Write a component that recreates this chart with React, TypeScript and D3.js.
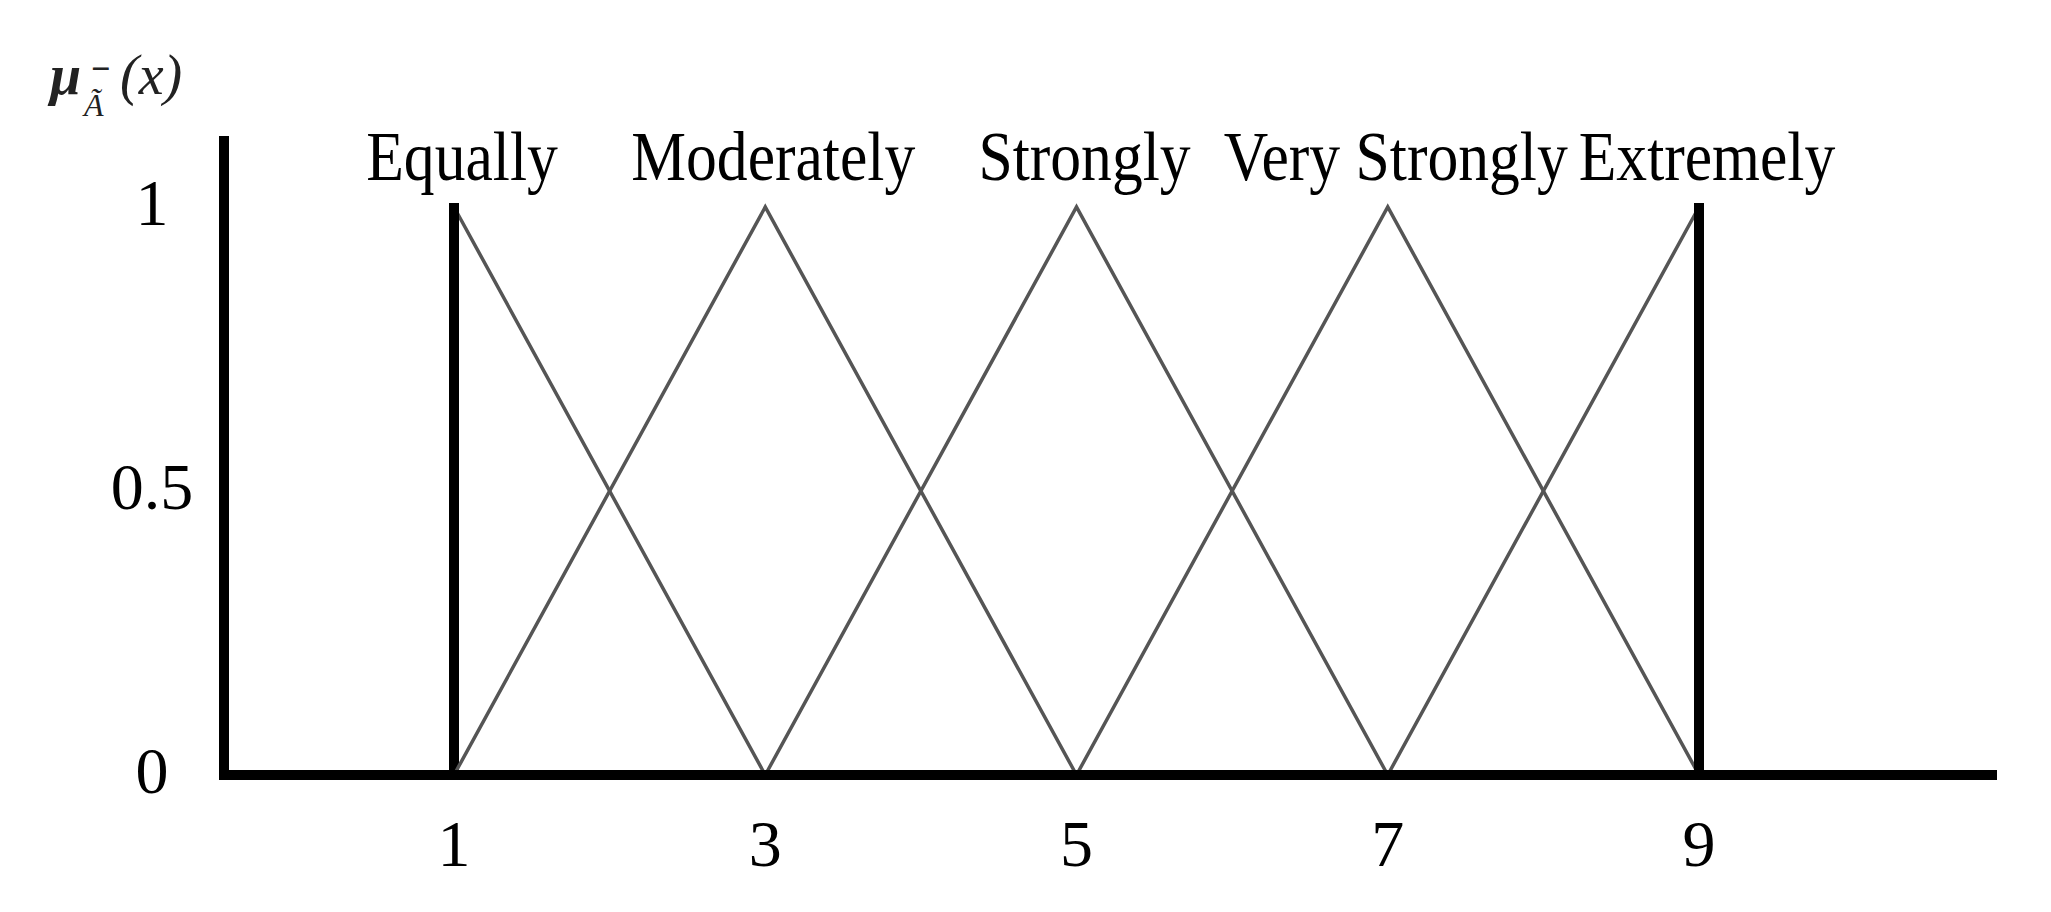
import React from 'react';
import * as d3 from 'd3';

// linguistic grades of the fuzzy scale
const grades = ['Equally', 'Moderately', 'Strongly', 'Very Strongly', 'Extremely'];
const lowers = [1, 1, 3, 5, 7];
const peaks = [1, 3, 5, 7, 9];
const uppers = [3, 5, 7, 9, 9];

const xTicks = [1, 3, 5, 7, 9];
const yTicks = [0, 0.5, 1];
const yTickLabels = ['0', '0.5', '1'];

const W = 2051;
const H = 912;
const serif = '"Liberation Serif", "Times New Roman", serif';

const App = () => {
  // scales
  const x = d3.scaleLinear().domain([1, 9]).range([454, 1699]);
  const y = d3.scaleLinear().domain([0, 1]).range([775, 207]);

  const axisLeft = 224;
  const axisRight = 1997;
  const axisTop = 136;

  const line = d3.line<[number, number]>()
    .x(d => x(d[0]))
    .y(d => y(d[1]));

  return (
    <svg width={W} height={H} style={{ position: 'absolute', left: 0, top: 0, background: '#fff' }}>
      {/* membership triangles */}
      {grades.map((g, i) => {
        const pts: [number, number][] = [[lowers[i], 0], [peaks[i], 1], [uppers[i], 0]];
        return (
          <g key={g}>
            <path d={line(pts) || ''} fill="none" stroke="#555" strokeWidth={3.5} />
            {lowers[i] === peaks[i] && (
              <line x1={x(peaks[i])} x2={x(peaks[i])} y1={y(0)} y2={y(1) - 4} stroke="#000" strokeWidth={10} />
            )}
            {uppers[i] === peaks[i] && (
              <line x1={x(peaks[i])} x2={x(peaks[i])} y1={y(0)} y2={y(1) - 4} stroke="#000" strokeWidth={10} />
            )}
            <text
              transform={`translate(${x(peaks[i]) + 8},${y(1) - 27}) scale(0.88,1)`}
              textAnchor="middle"
              fontFamily={serif}
              fontSize={70}
              fill="#000"
            >
              {g}
            </text>
          </g>
        );
      })}

      {/* axes */}
      <line x1={axisLeft} x2={axisLeft} y1={axisTop} y2={y(0) + 5} stroke="#000" strokeWidth={10} />
      <line x1={axisLeft - 5} x2={axisRight} y1={y(0)} y2={y(0)} stroke="#000" strokeWidth={10} />

      {/* x tick labels */}
      {xTicks.map(t => (
        <text key={t} x={x(t)} y={y(0) + 91} textAnchor="middle" fontFamily={serif} fontSize={66}>
          {t}
        </text>
      ))}

      {/* y tick labels */}
      {yTicks.map((t, i) => (
        <text key={t} x={152} y={y(t) + 18} textAnchor="middle" fontFamily={serif} fontSize={66}>
          {yTickLabels[i]}
        </text>
      ))}

      {/* y axis title: mu with subscript A-tilde and superscript minus */}
      <g fontFamily={serif} fontStyle="italic" fill="#222">
        <text x={50} y={94} fontSize={56} fontWeight="bold">μ</text>
        <text x={90} y={80} fontSize={34} fontWeight="bold">−</text>
        <text x={84} y={116} fontSize={32}>Ã</text>
        <text x={120} y={94} fontSize={56}>(x)</text>
      </g>
    </svg>
  );
};

export default App;
